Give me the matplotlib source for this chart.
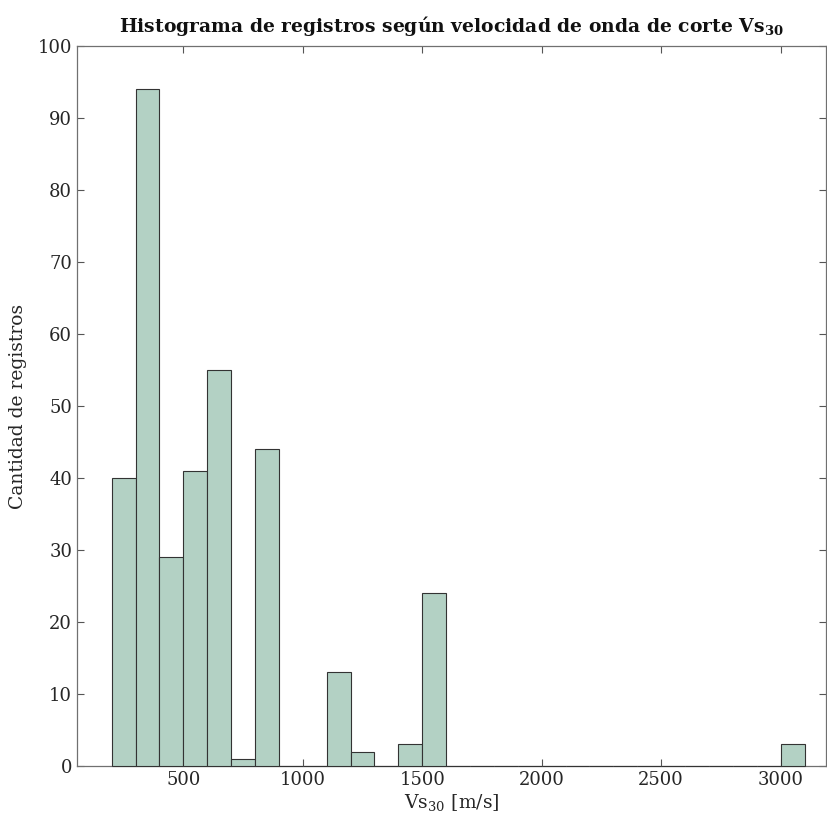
import matplotlib
matplotlib.use("Agg")
import matplotlib.pyplot as plt
import numpy as np

# Histogram bins (m/s) and counts per bin
bin_edges = list(range(200, 3101, 100))
counts = [40, 94, 29, 41, 55, 1, 44, 0, 0, 13, 2, 0, 3, 24,
          0, 0, 0, 0, 0, 0, 0, 0, 0, 0, 0, 0, 0, 0, 3]
x_ticks = [500, 1000, 1500, 2000, 2500, 3000]
y_ticks = list(range(0, 101, 10))

plt.rcParams['font.family'] = ['DejaVu Serif']
plt.rcParams['mathtext.fontset'] = 'dejavuserif'
plt.rcParams['mathtext.default'] = 'regular'

fig = plt.figure(figsize=(8.28, 8.30), dpi=100)
ax = fig.add_axes([0.093, 0.0771, 0.9046, 0.8675])

edges = np.array(bin_edges)
ax.bar(edges[:-1], counts, width=np.diff(edges), align='edge',
       color='#b3d1c4', edgecolor='#333333', linewidth=0.8,
       zorder=3, clip_on=False)

ax.set_xlim(55, 3190)
ax.set_ylim(0, 100)
ax.set_xticks(x_ticks)
ax.set_yticks(y_ticks)
ax.tick_params(direction='in', top=True, right=True, length=5,
               labelsize=13, colors='#555555', labelcolor='#262626', width=0.8)
for s in ax.spines.values():
    s.set_color('#707070')
    s.set_linewidth(0.9)

ax.set_xlabel(r'Vs$_{30}$ [m/s]', fontsize=13.5, color='#262626', labelpad=2)
ax.set_ylabel('Cantidad de registros', fontsize=13.5, color='#262626', labelpad=8)
ax.set_title(r'Histograma de registros según velocidad de onda de corte Vs$_{\mathbf{30}}$',
             fontsize=13.5, fontweight='bold', color='#111111', pad=10)

fig.savefig('out.png', dpi=100)
